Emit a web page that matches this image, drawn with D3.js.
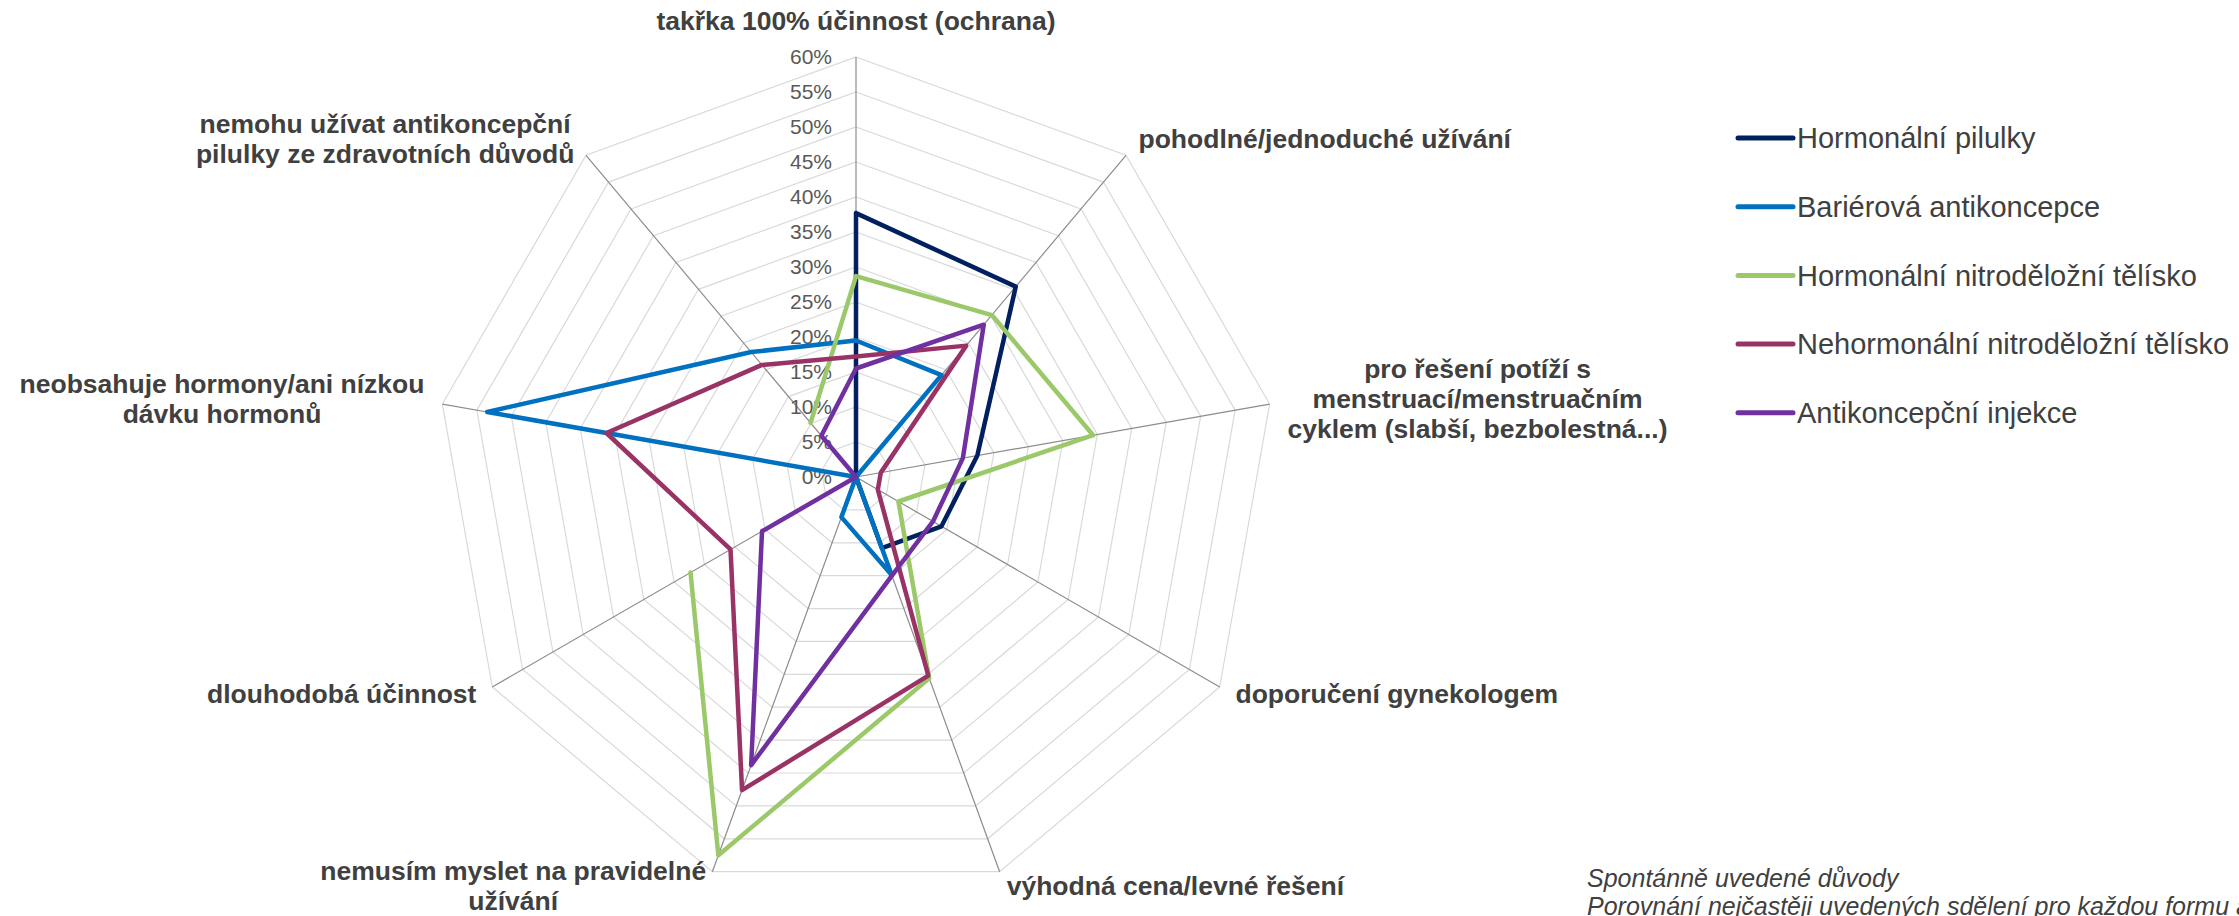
<!DOCTYPE html>
<html>
<head>
<meta charset="utf-8">
<script src="https://cdn.jsdelivr.net/npm/d3@7"></script>
<style>
  body { margin: 0; background: #fff; }
  svg { display: block; font-family: "Liberation Sans", Arial, sans-serif; }
</style>
</head>
<body>
<svg id="chart" width="2239" height="916"></svg>
<script>
// axis categories (clockwise from the top), line breaks as in the original
const categories = [
  ["takřka 100% účinnost (ochrana)"],
  ["pohodlné/jednoduché užívání"],
  ["pro řešení potíží s", "menstruací/menstruačním", "cyklem (slabší, bezbolestná...)"],
  ["doporučení gynekologem"],
  ["výhodná cena/levné řešení"],
  ["nemusím myslet na pravidelné", "užívání"],
  ["dlouhodobá účinnost"],
  ["neobsahuje hormony/ani nízkou", "dávku hormonů"],
  ["nemohu užívat antikoncepční", "pilulky ze zdravotních důvodů"]
];

const seriesNames = [
  "Hormonální pilulky",
  "Bariérová antikoncepce",
  "Hormonální nitroděložní tělísko",
  "Nehormonální nitroděložní tělísko",
  "Antikoncepční injekce"
];

// values in %, null = missing value (gap in line)
const pilulky    = [37.7, 35.5, 17.6, 14.1, 10.8, 0, 0, 0, 0];
const barierova  = [19.5, 19.0, 0, 0, 14.9, 6.1, 0, 53.5, 23.3];
const hormNitro  = [28.7, 30.2, 34.4, 7.0, 30.6, 57.5, 27.3, null, 10.1];
const nehormNitro = [17.2, 24.5, 3.6, 3.6, 30.2, 47.6, 20.7, 36.2, 20.9];
const injekce    = [15.5, 28.4, 15.5, 12.7, 15.0, 43.8, 15.5, 0, 7.7];

const seriesValues = [pilulky, barierova, hormNitro, nehormNitro, injekce];
const colors = ["#002060", "#0070C0", "#9BC96A", "#993366", "#7030A0"];

const tickValues = [0, 5, 10, 15, 20, 25, 30, 35, 40, 45, 50, 55, 60];

const cx = 856, cy = 477, R = 420;
const svg = d3.select("#chart");

const r = d3.scaleLinear().domain([0, 60]).range([0, R]);
const n = categories.length;
const angle = d3.scaleLinear().domain([0, n]).range([0, 2 * Math.PI]);

function pt(i, v) {
  const a = angle(i);
  return [cx + r(v) * Math.sin(a), cy - r(v) * Math.cos(a)];
}

// grid rings
const g = svg.append("g");
g.selectAll(".ring")
  .data(tickValues.filter(t => t > 0))
  .enter()
  .append("polygon")
  .attr("points", t => d3.range(n).map(i => pt(i, t).join(",")).join(" "))
  .attr("fill", "none")
  .attr("stroke", "#d9d9d9")
  .attr("stroke-width", 1.2);

// spokes
g.selectAll(".spoke")
  .data(d3.range(n))
  .enter()
  .append("line")
  .attr("x1", cx).attr("y1", cy)
  .attr("x2", i => pt(i, 60)[0])
  .attr("y2", i => pt(i, 60)[1])
  .attr("stroke", "#8c8c8c")
  .attr("stroke-width", 1.2);

// tick labels
g.selectAll(".tick")
  .data(tickValues)
  .enter()
  .append("text")
  .attr("x", cx - 24)
  .attr("y", t => cy - r(t))
  .attr("dy", "0.35em")
  .attr("text-anchor", "end")
  .attr("font-size", 21)
  .attr("fill", "#595959")
  .text(t => t + "%");

// category labels
const lineH = 30;
categories.forEach((lines, i) => {
  const a = angle(i);
  const s = Math.sin(a), c = Math.cos(a);
  const p = pt(i, 60 + 2.6);
  const lab = svg.append("text")
    .attr("font-size", 26.5)
    .attr("font-weight", "bold")
    .attr("fill", "#404040")
    .attr("text-anchor", "middle");
  lines.forEach((t, k) => {
    lab.append("tspan").attr("x", 0).attr("y", k * lineH).text(t);
  });
  const w = lab.node().getBBox().width;
  const h = lines.length * lineH;
  let x, y;
  if (Math.abs(s) < 0.01) {
    x = p[0];
    y = p[1] - h;
  } else {
    x = s > 0 ? p[0] + w / 2 : p[0] - w / 2;
    y = p[1] - h / 2;
  }
  lab.attr("transform", "translate(" + x + "," + (y + lineH * 0.72) + ")");
});

// series lines
const line = d3.line()
  .defined(d => d.v != null)
  .x(d => pt(d.i, d.v)[0])
  .y(d => pt(d.i, d.v)[1]);

seriesValues.forEach((vals, k) => {
  const pts = vals.map((v, i) => ({ i: i, v: v }));
  pts.push({ i: n, v: vals[0] });
  svg.append("path")
    .attr("d", line(pts))
    .attr("fill", "none")
    .attr("stroke", colors[k])
    .attr("stroke-width", 4.5)
    .attr("stroke-linejoin", "round")
    .attr("stroke-linecap", "round");
});

// legend
const legend = svg.append("g").attr("transform", "translate(1738,138)");
seriesNames.forEach((name, k) => {
  const row = legend.append("g").attr("transform", "translate(0," + (k * 68.7) + ")");
  row.append("line")
    .attr("x1", 0).attr("x2", 55)
    .attr("stroke", colors[k])
    .attr("stroke-width", 5)
    .attr("stroke-linecap", "round");
  row.append("text")
    .attr("x", 59)
    .attr("dy", "0.35em")
    .attr("font-size", 29)
    .attr("fill", "#404040")
    .text(name);
});

// footnote (second line runs off the right edge, as in the original)
const note = svg.append("text")
  .attr("font-size", 25)
  .attr("font-style", "italic")
  .attr("fill", "#404040");
note.append("tspan").attr("x", 1587).attr("y", 887).text("Spontánně uvedené důvody");
note.append("tspan").attr("x", 1587).attr("y", 915).text("Porovnání nejčastěji uvedených sdělení pro každou formu antikoncepce");
</script>
</body>
</html>
